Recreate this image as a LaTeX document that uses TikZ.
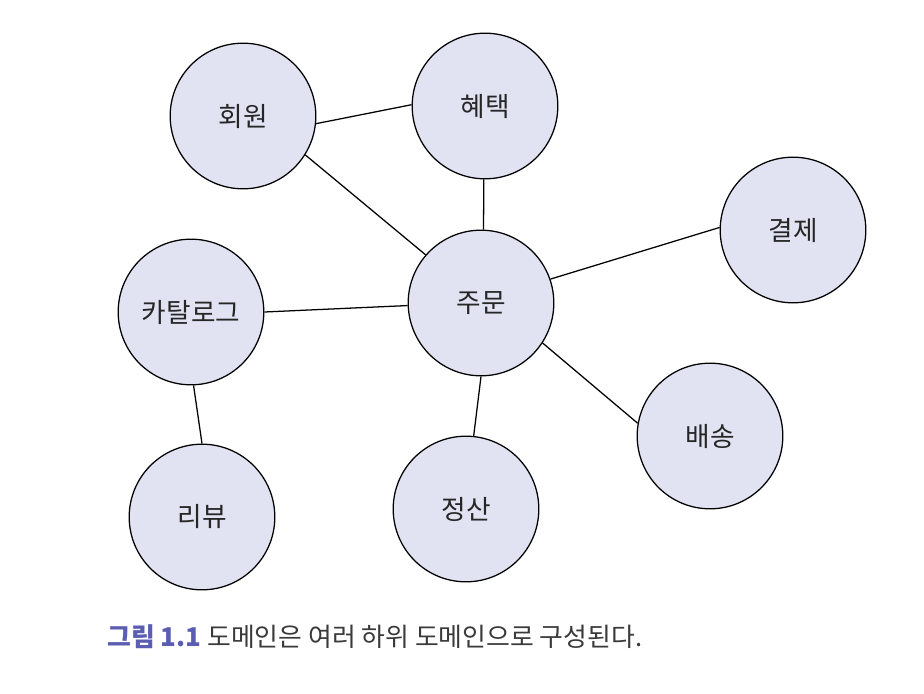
\documentclass[tikz,border=0pt]{standalone}
\usepackage{fontspec}
\setmainfont{Noto Sans CJK KR}
\usepackage{tikz}
\usetikzlibrary{shapes}

\definecolor{domfill}{RGB}{225,226,242}
\definecolor{captionblue}{RGB}{90,93,176}
\definecolor{captiongray}{RGB}{58,58,58}

\begin{document}
\begin{tikzpicture}[x=0.025cm, y=-0.025cm,
    domainbox/.style={circle, draw, fill=domfill, line width=0.9pt,
      minimum size=3.64cm, inner sep=0pt, text=black!85,
      font=\fontsize{19}{22}\selectfont},
    subline/.style={line width=0.9pt}]
  \useasboundingbox (0,0) rectangle (924,694);

  %% De delene av domenet
  % We start with the circles:
  \node[domainbox] (hoewon) at (243,116) {회원};
  \node[domainbox] (hyetaek) at (485,106) {혜택};
  \node[domainbox] (gyeolje) at (793,230) {결제};
  \node[domainbox] (catalog) at (191,312) {카탈로그};
  \node[domainbox] (jumun) at (481,303) {주문};
  \node[domainbox] (baesong) at (710,436) {배송};
  \node[domainbox] (review) at (202,517) {리뷰};
  \node[domainbox] (jeongsan) at (466,509) {정산};

  %% Linjene mellom dem
  \draw[subline] (hoewon.-6) -- (hyetaek.179);
  \draw[subline] (hoewon.-32) -- (jumun.139);
  \draw[subline] (hyetaek.-91) -- (jumun.88);
  \draw[subline] (jumun.19) -- (gyeolje.178);
  \draw[subline] (jumun.-33) -- (baesong.170);
  \draw[subline] (catalog.0) -- (jumun.182);
  \draw[subline] (catalog.-88) -- (review.90);
  \draw[subline] (jumun.-90) -- (jeongsan.84);

  %% Bildetekst
  \node[anchor=base west, inner sep=0pt, font=\fontsize{18.4}{21}\selectfont]
    (caption) at (107,646)
    {\textcolor{captionblue}{\bfseries 그림 1.1}\ \textcolor{captiongray}{도메인은 여러 하위 도메인으로 구성된다.}};
\end{tikzpicture}
\end{document}
